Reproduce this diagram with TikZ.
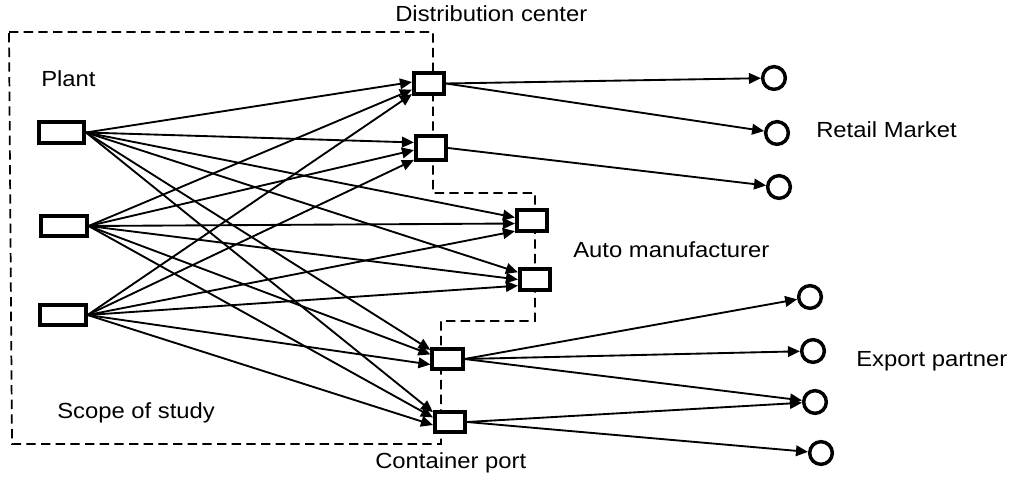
\documentclass[tikz,border=0pt]{standalone}
\usepackage{fontspec}
\setmainfont{Liberation Sans}[FakeStretch=1.09]
\usetikzlibrary{arrows.meta}
\begin{document}
\begin{tikzpicture}[x=0.75pt,y=-0.75pt,
  box/.style={draw, line width=2.8pt, fill=white, minimum width=22.8pt, minimum height=15.3pt, inner sep=0pt},
  plantbox/.style={box, minimum width=34pt},
  mkt/.style={circle, draw, line width=2.6pt, minimum size=17pt, inner sep=0pt, fill=white},
  flow/.style={-{Triangle[length=9pt,width=8pt]}, line width=1.4pt},
  scopeline/.style={dash pattern=on 7pt off 4pt, line width=1.3pt},
  lbl/.style={font=\fontsize{16.4}{19.7}\selectfont, anchor=base west, inner sep=0pt}]
\useasboundingbox (0,0) rectangle (1014,477);
% scope of study boundary
\draw[scopeline] (9,32) -- (433,32) -- (433,193) -- (535,193) -- (535,321) -- (441,321) -- (441,444) -- (12,444) -- cycle;
% plants
\node[plantbox] (P1) at (61.5,132.5) {};
\node[plantbox] (P2) at (64,226) {};
\node[plantbox] (P3) at (63,315) {};
% distribution centers
\node[box] (DC1) at (429,83.5) {};
\node[box, minimum height=17.5pt] (DC2) at (431,148) {};
% auto manufacturers
\node[box] (AM1) at (532,220.5) {};
\node[box] (AM2) at (535,279.5) {};
% container ports
\node[box] (CP1) at (447.5,359) {};
\node[box] (CP2) at (450,422) {};
% retail markets
\node[mkt] (R1) at (774,78) {};
\node[mkt] (R2) at (777,133) {};
\node[mkt] (R3) at (779,187) {};
% export partners
\node[mkt] (E1) at (810,297) {};
\node[mkt] (E2) at (813,351) {};
\node[mkt] (E3) at (815,402) {};
\node[mkt] (E4) at (821,453) {};
% labels
\node[lbl] (tDC) at (395,22) {Distribution center};
\node[lbl] (tPlant) at (41,87) {Plant};
\node[lbl] (tRM) at (816,138) {Retail Market};
\node[lbl] (tAM) at (573,258) {Auto manufacturer};
\node[lbl] (tEP) at (856,366) {Export partner};
\node[lbl] (tScope) at (57,418) {Scope of study};
\node[lbl] (tCP) at (375,468) {Container port};
% plant flows
\draw[flow] (P1.east) -- (DC1.175);
\draw[flow] (P2.east) -- (DC1.200);
\draw[flow] (P3.east) -- (DC1.212);
\draw[flow] (P1.east) -- (DC2.162);
\draw[flow] (P2.east) -- (DC2.187);
\draw[flow] (P3.east) -- (DC2.215);
\draw[flow] (P1.east) -- (AM1.170);
\draw[flow] (P2.east) -- (AM1.190);
\draw[flow] (P3.east) -- (AM1.212);
\draw[flow] (P1.east) -- (AM2.157);
\draw[flow] (P2.east) -- (AM2.180);
\draw[flow] (P3.east) -- (AM2.200);
\draw[flow] (P1.east) -- (CP1.152);
\draw[flow] (P2.east) -- (CP1.165);
\draw[flow] (P3.east) -- (CP1.198);
\draw[flow] (P1.east) -- (CP2.150);
\draw[flow] (P2.east) -- (CP2.165);
\draw[flow] (P3.east) -- (CP2.190);
% outbound flows
\draw[flow] (DC1.east) -- (R1);
\draw[flow] (DC1.east) -- (R2);
\draw[flow] (DC2.east) -- (R3);
\draw[flow] (CP1.east) -- (E1);
\draw[flow] (CP1.east) -- (E2);
\draw[flow] (CP1.east) -- (E3);
\draw[flow] (CP2.east) -- (E3);
\draw[flow] (CP2.east) -- (E4);
\end{tikzpicture}
\end{document}
